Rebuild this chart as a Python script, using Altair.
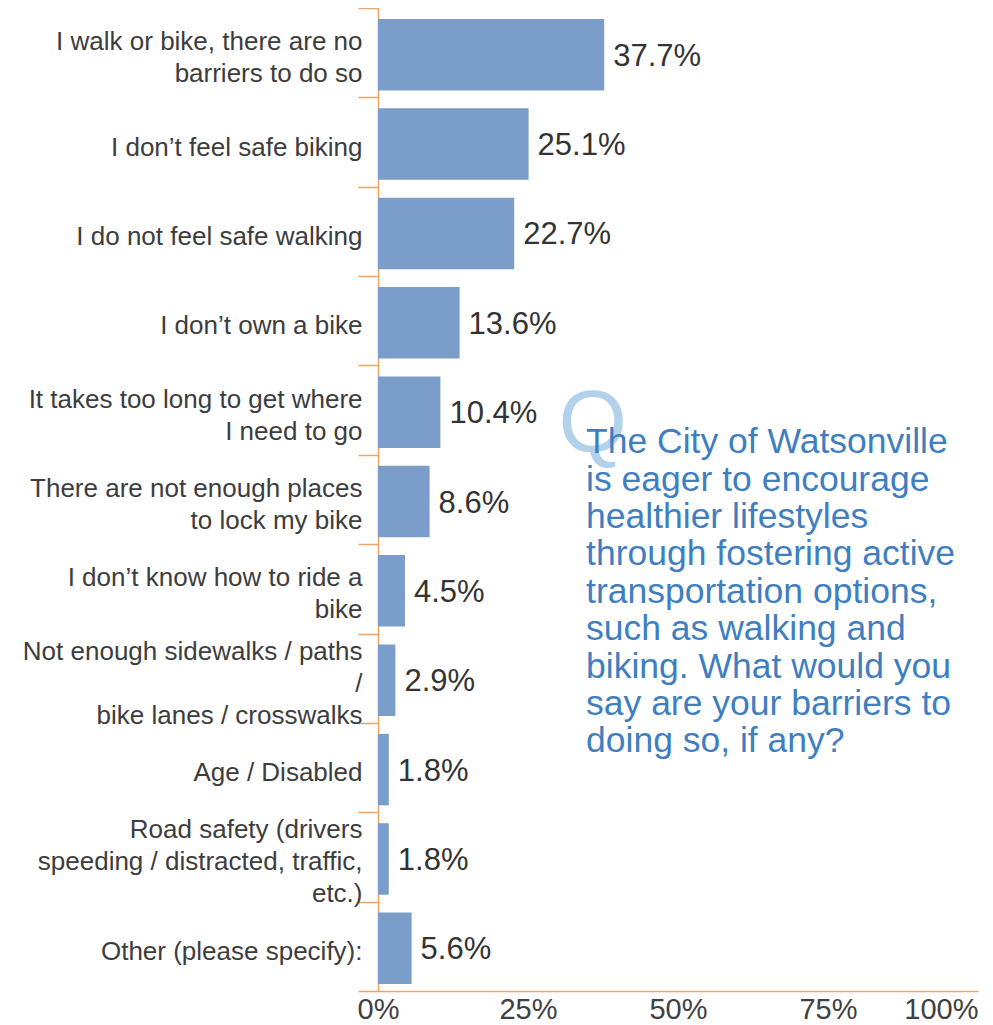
import altair as alt
import pandas as pd

categories = [
    "I walk or bike, there are no|barriers to do so",
    "I don’t feel safe biking",
    "I do not feel safe walking",
    "I don’t own a bike",
    "It takes too long to get where|I need to go",
    "There are not enough places|to lock my bike",
    "I don’t know how to ride a|bike",
    "Not enough sidewalks / paths|/|bike lanes / crosswalks",
    "Age / Disabled",
    "Road safety (drivers|speeding / distracted, traffic,|etc.)",
    "Other (please specify):",
]
values = [0.377, 0.251, 0.227, 0.136, 0.104, 0.086, 0.045, 0.029, 0.018, 0.018, 0.056]
x_ticks = [0, 0.25, 0.5, 0.75, 1.0]
question_lines = [
    "The City of Watsonville",
    "is eager to encourage",
    "healthier lifestyles",
    "through fostering active",
    "transportation options,",
    "such as walking and",
    "biking. What would you",
    "say are your barriers to",
    "doing so, if any?",
]

ORANGE = "#EFA463"
BAR = "#7B9DC9"
FONT = "Liberation Sans"

df = pd.DataFrame({"cat": categories, "val": values})

n_lines = "length(split(datum.label, '|'))"

y_enc = alt.Y(
    "cat:N",
    sort=categories,
    scale=alt.Scale(paddingInner=0, paddingOuter=0),
    axis=alt.Axis(
        title=None,
        domainColor=ORANGE,
        domainWidth=1.5,
        tickColor=ORANGE,
        tickWidth=1.5,
        tickSize=20,
        tickBand="extent",
        labelExpr="split(datum.label, '|')",
        labelFont=FONT,
        labelFontSize=26,
        labelColor="#3d3d3d",
        labelLineHeight=32,
        labelPadding=-4,
        labelOffset={
            "condition": [
                {"test": n_lines + " == 2", "value": -11},
                {"test": n_lines + " == 3", "value": -27},
            ],
            "value": 5,
        },
        labelLimit=400,
    ),
)

x_enc = alt.X(
    "val:Q",
    scale=alt.Scale(domain=[0, 1]),
    axis=alt.Axis(
        title=None,
        values=x_ticks,
        format=".0%",
        ticks=False,
        grid=False,
        domainColor=ORANGE,
        domainWidth=1.5,
        labelFont=FONT,
        labelFontSize=29,
        labelColor="#404040",
        labelPadding=4,
        labelFlush=False,
        labelAlign={"condition": {"test": "datum.value == 1", "value": "right"}, "value": "center"},
    ),
)

base = alt.Chart(df)

bars = base.mark_bar(color=BAR, height=alt.RelativeBandSize(0.8)).encode(
    x=x_enc, y=y_enc, yOffset=alt.value(2)
)

labels = base.mark_text(
    align="left", baseline="middle", dx=9, dy=4, font=FONT, fontSize=31, color="#333333"
).encode(
    x="val:Q",
    y=alt.Y("cat:N", sort=categories),
    text=alt.Text("val:Q", format=".1%"),
)

qdf = pd.DataFrame({"t": ["\n".join(question_lines)], "q": ["Q"]})
anchor_cat = categories[4]

big_q = alt.Chart(qdf).mark_text(
    align="left", baseline="alphabetic", font=FONT, fontSize=88, color="#B2D1EB", dy=42
).encode(x=alt.datum(0.301), y=alt.datum(anchor_cat), text="q:N")

question = alt.Chart(qdf).mark_text(
    align="left", baseline="alphabetic", font=FONT, fontSize=35.5, lineHeight=37.4,
    lineBreak="\n", color="#3F7FC1", dy=43
).encode(x=alt.datum(0.3467), y=alt.datum(anchor_cat), text="t:N")

chart = (
    alt.layer(bars, labels, big_q, question)
    .properties(
        width=600,
        height=983,
        autosize=alt.AutoSizeParams(type="none"),
        padding={"left": 370, "top": 0, "right": 7, "bottom": 34},
        background="white",
    )
    .configure_view(stroke=None)
)

chart.save("out.html", embed_options={"renderer": "svg", "actions": False})
